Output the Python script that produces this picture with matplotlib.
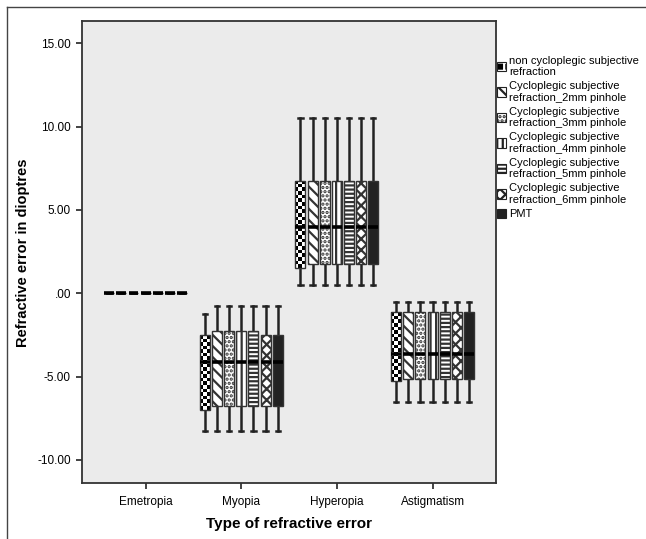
"""
Grouped box plot of refractive error per method (SPSS style, hatched boxes).
"""

import numpy as np
import matplotlib

matplotlib.use("Agg")

import matplotlib.pyplot as plt  # noqa: E402
from matplotlib.patches import Patch  # noqa: E402
from matplotlib.legend_handler import HandlerTuple  # noqa: E402

plt.rcParams["font.family"] = ["Liberation Sans", "DejaVu Sans"]
plt.rcParams["hatch.linewidth"] = 1.6

# categories and tick labels
groups = ["Emetropia", "Myopia", "Hyperopia", "Astigmatism"]
y_ticks = [-10, -5, 0, 5, 10, 15]
y_tick_labels = ["-10.00", "-5.00", ".00", "5.00", "10.00", "15.00"]

methods = [
    "non cycloplegic subjective\nrefraction",
    "Cycloplegic subjective\nrefraction_2mm pinhole",
    "Cycloplegic subjective\nrefraction_3mm pinhole",
    "Cycloplegic subjective\nrefraction_4mm pinhole",
    "Cycloplegic subjective\nrefraction_5mm pinhole",
    "Cycloplegic subjective\nrefraction_6mm pinhole",
    "PMT",
]

# box statistics per method, one value per group (Emetropia, Myopia, Hyperopia, Astigmatism)
whis_low = [
    [0, -8.25, 0.50, -6.50],
    [0, -8.25, 0.50, -6.50],
    [0, -8.25, 0.50, -6.50],
    [0, -8.25, 0.50, -6.50],
    [0, -8.25, 0.50, -6.50],
    [0, -8.25, 0.50, -6.50],
    [0, -8.25, 0.50, -6.50],
]
q1 = [
    [0, -7.00, 1.50, -5.25],
    [0, -6.75, 1.75, -5.12],
    [0, -6.75, 1.75, -5.12],
    [0, -6.75, 1.75, -5.12],
    [0, -6.75, 1.75, -5.12],
    [0, -6.75, 1.75, -5.12],
    [0, -6.75, 1.75, -5.12],
]
medians = [
    [0, -4.12, 4.00, -3.62],
    [0, -4.12, 4.00, -3.62],
    [0, -4.12, 4.00, -3.62],
    [0, -4.12, 4.00, -3.62],
    [0, -4.12, 4.00, -3.62],
    [0, -4.12, 4.00, -3.62],
    [0, -4.12, 4.00, -3.62],
]
q3 = [
    [0, -2.50, 6.75, -1.12],
    [0, -2.25, 6.75, -1.12],
    [0, -2.25, 6.75, -1.12],
    [0, -2.25, 6.75, -1.12],
    [0, -2.25, 6.75, -1.12],
    [0, -2.50, 6.75, -1.12],
    [0, -2.50, 6.75, -1.12],
]
whis_high = [
    [0, -1.25, 10.50, -0.50],
    [0, -0.75, 10.50, -0.50],
    [0, -0.75, 10.50, -0.50],
    [0, -0.75, 10.50, -0.50],
    [0, -0.75, 10.50, -0.50],
    [0, -0.75, 10.50, -0.50],
    [0, -0.75, 10.50, -0.50],
]

# fill style per method ("checker" is drawn as an image clipped to the box)
hatches = ["checker", "\\\\\\", "....", "|||", "----", "xxx", None]
faces = ["none", "white", "white", "white", "white", "white", "#222222"]

fig = plt.figure(figsize=(6.46, 5.39), dpi=100)
ax = fig.add_axes([0.127, 0.1035, 0.641, 0.857])
ax.set_facecolor("#ebebeb")

ax.set_xlim(-0.665, 3.665)
ax.set_ylim(-11.4, 16.32)

step = 0.127
width = 0.104
centers = np.arange(len(groups))

for i, label in enumerate(methods):
    stats = []
    for g in range(len(groups)):
        stats.append(
            {
                "whislo": whis_low[i][g],
                "q1": q1[i][g],
                "med": medians[i][g],
                "q3": q3[i][g],
                "whishi": whis_high[i][g],
            }
        )
    pos = centers + (i - 3) * step
    bp = ax.bxp(
        stats,
        positions=pos,
        widths=width,
        capwidths=0.045,
        patch_artist=True,
        showfliers=False,
        manage_ticks=False,
        boxprops=dict(facecolor=faces[i], edgecolor="#333333", linewidth=1.0),
        whiskerprops=dict(color="#222222", linewidth=1.8),
        capprops=dict(color="#222222", linewidth=1.8),
        medianprops=dict(color="black", linewidth=2.6, solid_capstyle="butt", zorder=4),
    )
    for g, box in enumerate(bp["boxes"]):
        box.set_zorder(3)
        h = hatches[i]
        if h == "checker":
            lo, hi = q1[i][g], q3[i][g]
            if hi - lo <= 0:
                continue
            # cell size about 3.6 px in each direction
            px_per_unit = ax.transData.transform((0, 1))[1] - ax.transData.transform((0, 0))[1]
            rows = max(1, int(round((hi - lo) * px_per_unit / 3.6)))
            cells = np.indices((rows, 3)).sum(axis=0) % 2
            im = ax.imshow(
                cells,
                cmap="gray",
                extent=(pos[g] - width / 2, pos[g] + width / 2, lo, hi),
                aspect="auto",
                interpolation="nearest",
                zorder=2.5,
            )
            im.set_clip_path(box)
        elif h is not None:
            box.set_hatch(h)

ax.set_xlim(-0.665, 3.665)
ax.set_ylim(-11.4, 16.32)

ax.set_xticks(centers)
ax.set_xticklabels(groups, fontsize=8.5)
ax.set_yticks(y_ticks)
ax.set_yticklabels(y_tick_labels, fontsize=8.5)
ax.tick_params(axis="both", direction="out", length=4.5, width=1.2, color="#222222")
ax.tick_params(axis="x", pad=5)

for side in ax.spines.values():
    side.set_color("#333333")
    side.set_linewidth(1.3)

ax.set_xlabel("Type of refractive error", fontsize=11, fontweight="bold", labelpad=6)
ax.set_ylabel("Refractive error in dioptres", fontsize=10.5, fontweight="bold", labelpad=5)

# legend to the right of the plot
handles = []
for i in range(len(methods)):
    h = hatches[i]
    if h == "checker":
        handles.append(
            (
                Patch(facecolor="black", edgecolor="white", hatch="++", linewidth=0),
                Patch(facecolor="none", edgecolor="#222222", linewidth=0.8),
            )
        )
    else:
        handles.append(Patch(facecolor=faces[i], edgecolor="#222222", hatch=h, linewidth=0.8))

fig.legend(
    handles,
    methods,
    loc="upper left",
    bbox_to_anchor=(0.763, 0.905),
    frameon=False,
    fontsize=8,
    handlelength=0.8,
    handleheight=0.9,
    handletextpad=0.25,
    labelspacing=0.35,
    borderaxespad=0,
    handler_map={tuple: HandlerTuple(ndivide=1, pad=0)},
)

# partial outer frame (left and top edge of the exported image)
fig.add_artist(plt.Line2D([0.011, 0.011], [0, 0.987], transform=fig.transFigure, color="#444444", lw=1))
fig.add_artist(plt.Line2D([0.011, 1], [0.987, 0.987], transform=fig.transFigure, color="#444444", lw=1))

fig.savefig("out.png", dpi=100)
plt.close(fig)
